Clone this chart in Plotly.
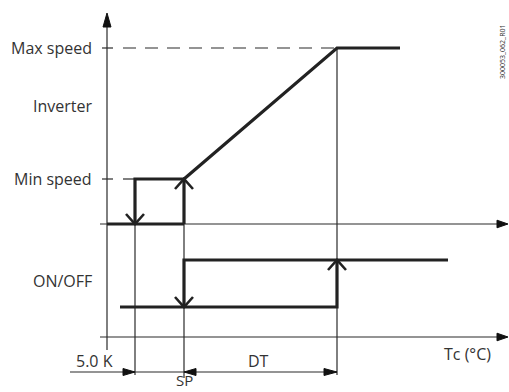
import plotly.graph_objects as go

# ---- schematic data (diagram units: x = Tc position, y = level position, y grows downward) ----
# x positions
x_yaxis = 107
x_hline_start = 100
x_sp_minus_hyst = 135      # SP - 5.0 K
x_sp = 184                 # SP
x_sp_dt = 337              # SP + DT
x_inv_end = 400
x_onoff_start = 120
x_onoff_end = 448
x_arrow_tip = 508
x_dim_start = 70

# y levels
y_axis_top = 13
y_max_speed = 48
y_min_speed = 179
y_inv_zero = 224
y_on = 260
y_off = 307
y_onoff_zero = 337
y_axis_bottom = 350
y_dim = 372

level_labels = ["Max speed", "Inverter", "Min speed", "ON/OFF"]
level_label_y = [48, 106, 179, 281]

dim_labels = ["5.0 K", "DT", "SP", "Tc (°C)"]
drawing_id = "300053_062_R01"

THIN = dict(color="#2a2a2a", width=1.2)
THICK = dict(color="#222222", width=3.2)
FONT = "Open Sans, DejaVu Sans, sans-serif"

fig = go.Figure()

def line(xs, ys, style, dash=None):
    st = dict(style)
    if dash:
        st["dash"] = dash
    fig.add_trace(go.Scatter(x=xs, y=ys, mode="lines", line=st,
                             hoverinfo="skip", showlegend=False))

def tri(xs, ys):
    fig.add_trace(go.Scatter(x=xs, y=ys, mode="lines", fill="toself",
                             fillcolor="#111111", line=dict(color="#111111", width=1),
                             hoverinfo="skip", showlegend=False))

# --- axes ---
line([x_yaxis, x_yaxis], [y_axis_top + 10, y_axis_bottom], THIN)
tri([x_yaxis - 4, x_yaxis, x_yaxis + 4, x_yaxis - 4],
    [y_axis_top + 14, y_axis_top, y_axis_top + 14, y_axis_top + 14])
for yy in (y_inv_zero, y_onoff_zero):
    line([x_hline_start, x_arrow_tip - 8], [yy, yy], THIN)
    tri([x_arrow_tip - 11, x_arrow_tip, x_arrow_tip - 11, x_arrow_tip - 11],
        [yy - 3.8, yy, yy + 3.8, yy - 3.8])

# level ticks
for yy in (y_max_speed, y_min_speed):
    line([x_yaxis - 5, x_yaxis + 6], [yy, yy], THIN)
line([123, x_sp_dt], [y_max_speed, y_max_speed], THIN, dash="13px,9px")
line([123, x_sp_minus_hyst], [y_min_speed, y_min_speed], THIN)

# vertical guides
line([x_sp_minus_hyst, x_sp_minus_hyst], [y_min_speed, 375], THIN)
line([x_sp, x_sp], [y_min_speed, 378], THIN)
line([x_sp_dt, x_sp_dt], [y_max_speed, 375], THIN)

# --- inverter curve ---
line([x_yaxis, x_sp], [y_inv_zero, y_inv_zero], THICK)
line([x_sp_minus_hyst, x_sp_minus_hyst, x_sp, x_sp],
     [y_inv_zero, y_min_speed, y_min_speed, y_inv_zero], THICK)
line([x_sp, x_sp_dt, x_inv_end], [y_min_speed, y_max_speed, y_max_speed], THICK)

# --- ON/OFF curve ---
line([x_onoff_start, x_sp_dt, x_sp_dt], [y_off, y_off, y_on], THICK)
line([x_sp, x_sp, x_onoff_end], [y_off, y_on, y_on], THICK)

# chevron arrows (direction of travel)
def chevron(xc, yc, up):
    d = 10 if up else -10
    line([xc - 9, xc, xc + 9], [yc + d, yc, yc + d], dict(color="#222222", width=2.6))

chevron(x_sp_minus_hyst, y_inv_zero, up=False)
chevron(x_sp, y_min_speed, up=True)
chevron(x_sp, y_off, up=False)
chevron(x_sp_dt, y_on, up=True)

# --- dimension line ---
line([x_dim_start, x_sp_dt], [y_dim, y_dim], THIN)
tri([x_sp_minus_hyst - 12, x_sp_minus_hyst, x_sp_minus_hyst - 12, x_sp_minus_hyst - 12],
    [y_dim - 3.5, y_dim, y_dim + 3.5, y_dim - 3.5])
tri([x_sp + 12, x_sp, x_sp + 12, x_sp + 12],
    [y_dim - 3.5, y_dim, y_dim + 3.5, y_dim - 3.5])
tri([x_sp_dt - 13, x_sp_dt, x_sp_dt - 13, x_sp_dt - 13],
    [y_dim - 3.5, y_dim, y_dim + 3.5, y_dim - 3.5])

annotations = []
for lab, yy in zip(level_labels, level_label_y):
    annotations.append(dict(x=94, y=yy, text=lab, xanchor="right", yanchor="middle",
                            showarrow=False, font=dict(family=FONT, size=16, color="#333")))
dim_pos = [(74, 361, "left"), (258, 361, "center"), (x_sp, 380, "center"), (467, 354, "center")]
for lab, (xx, yy, xa) in zip(dim_labels, dim_pos):
    annotations.append(dict(x=xx, y=yy, text=lab, xanchor=xa, yanchor="middle",
                            showarrow=False, font=dict(family=FONT, size=16 if lab != "SP" else 15,
                                                       color="#333")))
annotations.append(dict(x=502, y=52, text=drawing_id, textangle=-90, xanchor="center",
                        yanchor="middle", showarrow=False,
                        font=dict(family=FONT, size=7, color="#333")))

fig.update_layout(
    width=509, height=392,
    margin=dict(l=0, r=0, t=0, b=0),
    paper_bgcolor="white", plot_bgcolor="white",
    xaxis=dict(range=[0, 509], visible=False, fixedrange=True),
    yaxis=dict(range=[392, 0], visible=False, fixedrange=True),
    annotations=annotations,
    showlegend=False,
)

fig.write_html("out.html", config={"displayModeBar": False},
               post_script="document.body.style.margin='0';document.body.style.overflow='hidden';")
